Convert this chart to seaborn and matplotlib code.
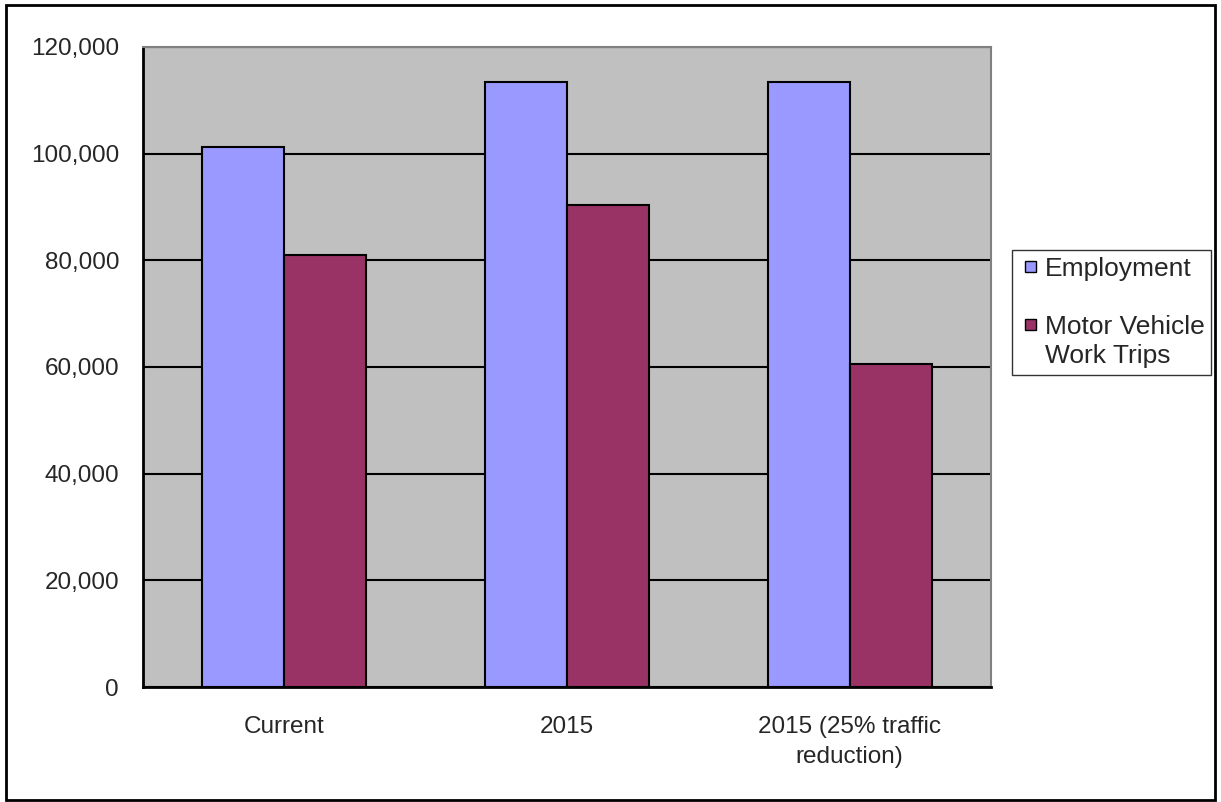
import matplotlib
matplotlib.use("Agg")
import matplotlib.pyplot as plt
import seaborn as sns
import pandas as pd
from matplotlib.patches import Rectangle, Patch
from matplotlib.legend_handler import HandlerPatch
from matplotlib.ticker import FuncFormatter, FixedLocator

categories = ["Current", "2015", "2015 (25% traffic\nreduction)"]
employment = [101300, 113400, 113400]
mv_trips = [81000, 90400, 60600]
series = ["Employment", "Motor Vehicle\nWork Trips"]
colors = ["#9999FF", "#993366"]

df = pd.DataFrame({
    "category": categories * 2,
    "series": [series[0]] * 3 + [series[1]] * 3,
    "value": employment + mv_trips,
})

sns.set_style("white")
plt.rcParams["font.family"] = ["Liberation Sans", "DejaVu Sans"]

fig = plt.figure(figsize=(12.21, 8.02), dpi=100)
ax = fig.add_axes([143/1221, 1-687/802, (991-143)/1221, (687-47)/802])
ax.set_facecolor("#C0C0C0")

sns.barplot(data=df, x="category", y="value", hue="series", palette=colors,
            width=0.58, edgecolor="black", linewidth=1.5, ax=ax, legend=False,
            saturation=1, zorder=3)

ax.set_ylim(0, 120000)
ax.set_xlim(-0.5, 2.5)
ax.yaxis.set_major_locator(FixedLocator(range(0, 120001, 20000)))
ax.yaxis.set_major_formatter(FuncFormatter(lambda v, p: f"{int(v):,}"))
ax.grid(axis="y", color="black", linewidth=1.5, zorder=1)
ax.set_axisbelow(True)
for b in ax.patches:
    b.set_zorder(3)

ax.set_xticks([0, 1, 2])
ax.set_xticklabels(categories, linespacing=1.45)
ax.set_xticks([-0.5, 0.5, 1.5, 2.5], minor=True)
ax.tick_params(axis="x", which="major", length=0, pad=21, labelsize=17.5)
ax.tick_params(axis="x", which="minor", length=5, width=1.5, color="black", direction="out")
ax.tick_params(axis="y", length=7.2, width=1.5, color="black", direction="out", labelsize=17.5, pad=10)
ax.set_xlabel("")
ax.set_ylabel("")

ax.spines["left"].set_color("black")
ax.spines["left"].set_linewidth(2)
ax.spines["bottom"].set_color("black")
ax.spines["bottom"].set_linewidth(2)
ax.spines["top"].set_color("#808080")
ax.spines["top"].set_linewidth(1.5)
ax.spines["right"].set_color("#808080")
ax.spines["right"].set_linewidth(1.5)


def square_right(legend, orig_handle, xdescent, ydescent, width, height, fontsize):
    s = 8.0
    return Rectangle((-xdescent + width - s, -ydescent + (height - s) / 2), s, s)


blank = Patch(facecolor="none", edgecolor="none")
handles = [Patch(facecolor=colors[0], edgecolor="black", linewidth=1), blank,
           Patch(facecolor=colors[1], edgecolor="black", linewidth=1), blank]
labels = ["Employment", " ", "Motor Vehicle", "Work Trips"]
leg = fig.legend(handles, labels, loc="upper left",
                 bbox_to_anchor=(1012/1221, 1-250/802), frameon=True,
                 fontsize=19, handlelength=0.66, handleheight=0.7,
                 handletextpad=0.34, borderpad=0.25, labelspacing=0.2,
                 fancybox=False, borderaxespad=0,
                 handler_map={Patch: HandlerPatch(patch_func=square_right)})
leg.get_frame().set_edgecolor("black")
leg.get_frame().set_linewidth(1)

fig.patches.append(Rectangle((6/1221, 2/802), 1209/1221, 795/802,
                             transform=fig.transFigure, fill=False,
                             edgecolor="black", linewidth=2))

fig.savefig("out.png", dpi=100)
